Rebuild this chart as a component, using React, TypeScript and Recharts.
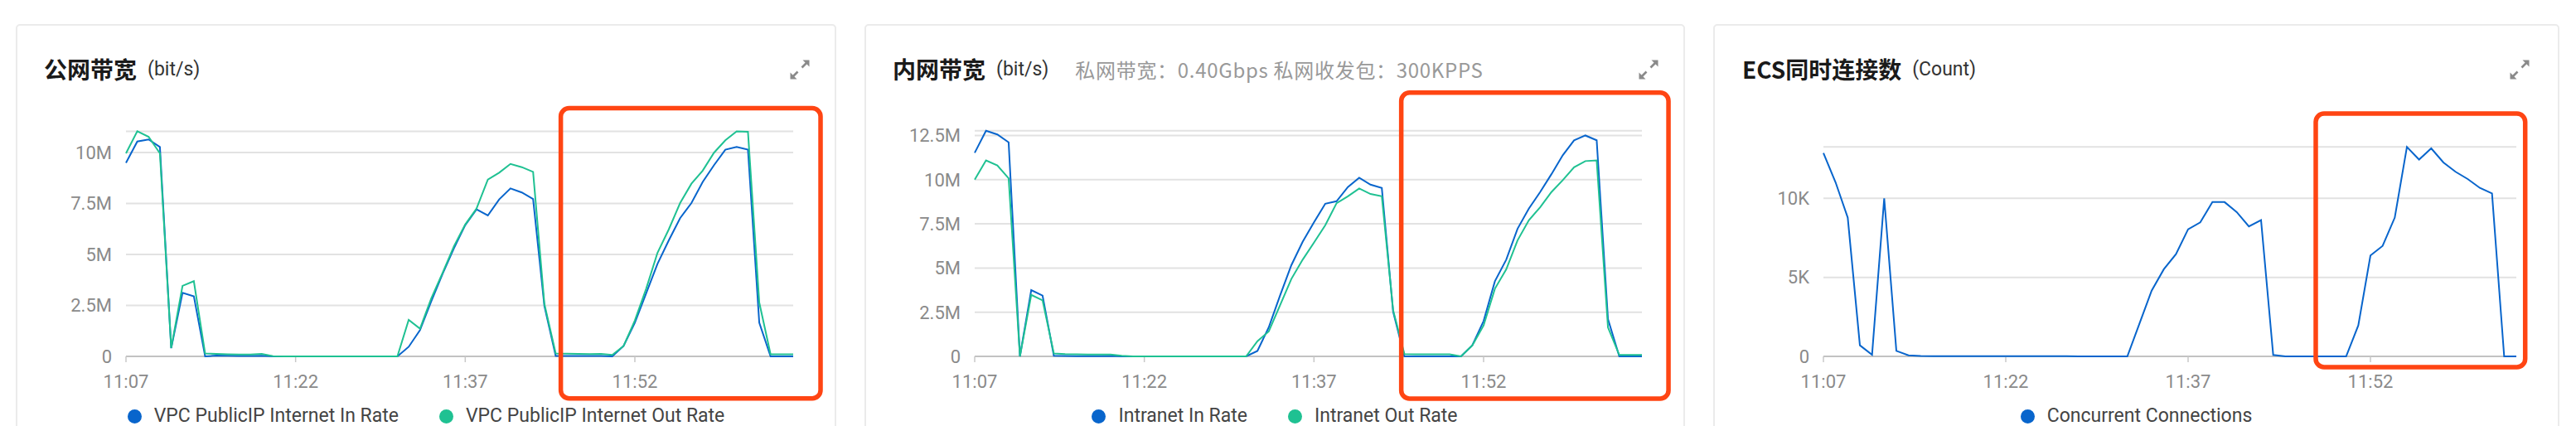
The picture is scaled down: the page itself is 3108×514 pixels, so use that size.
import React from 'react';
import { LineChart, Line, XAxis, YAxis, CartesianGrid, Legend, ReferenceArea } from 'recharts';

// ---------- categories (one sample per minute) ----------
const times = [
  '11:07', '11:08', '11:09', '11:10', '11:11', '11:12', '11:13', '11:14', '11:15', '11:16',
  '11:17', '11:18', '11:19', '11:20', '11:21', '11:22', '11:23', '11:24', '11:25', '11:26',
  '11:27', '11:28', '11:29', '11:30', '11:31', '11:32', '11:33', '11:34', '11:35', '11:36',
  '11:37', '11:38', '11:39', '11:40', '11:41', '11:42', '11:43', '11:44', '11:45', '11:46',
  '11:47', '11:48', '11:49', '11:50', '11:51', '11:52', '11:53', '11:54', '11:55', '11:56',
  '11:57', '11:58', '11:59', '12:00', '12:01', '12:02', '12:03', '12:04', '12:05', '12:06',
];
const xTickIndexes = [0, 15, 30, 45];

// ---------- 公网带宽 (Mbit/s) ----------
const publicInRate = [
  9.49, 10.54, 10.64, 10.27, 0.4, 3.12, 2.95, 0.0, 0.04, 0.03,
  0.02, 0.02, 0.03, 0, 0, 0, 0, 0, 0, 0,
  0, 0, 0, 0, 0, 0.47, 1.29, 2.71, 4.05, 5.3,
  6.44, 7.21, 6.91, 7.7, 8.24, 8.04, 7.72, 2.47, 0.02, 0.02,
  0.02, 0.02, 0.02, 0, 0.51, 1.65, 3.09, 4.54, 5.69, 6.78,
  7.52, 8.56, 9.38, 10.14, 10.27, 10.14, 1.65, 0, 0, 0,
];
const publicOutRate = [
  9.96, 11.04, 10.77, 9.96, 0.41, 3.46, 3.69, 0.14, 0.12, 0.1,
  0.09, 0.09, 0.12, 0.01, 0, 0, 0, 0, 0, 0,
  0, 0, 0, 0, 0, 1.79, 1.36, 2.85, 4.1, 5.4,
  6.47, 7.25, 8.67, 9.01, 9.44, 9.28, 9.05, 2.57, 0.14, 0.13,
  0.12, 0.11, 0.12, 0.07, 0.51, 1.76, 3.32, 5.08, 6.23, 7.52,
  8.47, 9.11, 9.99, 10.6, 11.04, 11.02, 2.64, 0.1, 0.1, 0.1,
];
const publicTicks = [0, 2.5, 5, 7.5, 10];

// ---------- 内网带宽 (Mbit/s) ----------
const intranetInRate = [
  11.52, 12.77, 12.56, 12.11, 0, 3.75, 3.44, 0.03, 0.02, 0.01,
  0.01, 0.01, 0.02, 0, 0, 0, 0, 0, 0, 0,
  0, 0, 0, 0, 0, 0.31, 1.64, 3.44, 5.16, 6.48,
  7.58, 8.64, 8.78, 9.58, 10.11, 9.72, 9.53, 2.53, 0, 0,
  0, 0, 0, 0, 0.62, 2.0, 4.25, 5.47, 7.22, 8.36,
  9.3, 10.31, 11.38, 12.22, 12.5, 12.23, 2.11, 0, 0, 0,
];
const intranetOutRate = [
  10.0, 11.09, 10.81, 10.08, 0, 3.48, 3.17, 0.16, 0.13, 0.12,
  0.11, 0.11, 0.1, 0.03, 0, 0, 0, 0, 0, 0,
  0, 0, 0, 0, 0, 0.86, 1.41, 2.89, 4.38, 5.47,
  6.44, 7.42, 8.67, 9.06, 9.5, 9.19, 9.06, 2.62, 0.13, 0.12,
  0.12, 0.12, 0.12, 0, 0.62, 1.75, 3.83, 4.92, 6.56, 7.7,
  8.44, 9.3, 9.97, 10.7, 11.05, 11.09, 1.64, 0.08, 0.08, 0.08,
];
const intranetTicks = [0, 2.5, 5, 7.5, 10, 12.5];

// ---------- ECS同时连接数 (Count) ----------
const concurrentConnections = [
  12870, 11010, 8780, 700, 100, 10000, 350, 70, 20, 10,
  10, 10, 10, 10, 10, 10, 10, 10, 10, 10,
  10, 0, 0, 0, 0, 0, 2080, 4160, 5510, 6470,
  8040, 8480, 9760, 9760, 9130, 8220, 8620, 90, 0, 0,
  0, 0, 0, 0, 1960, 6380, 6990, 8780, 13250, 12450,
  13160, 12270, 11680, 11220, 10660, 10310, 0, 0,
];
const connectionTicks = [0, 5000, 10000];

// ---------- highlighted ranges [x1, x2, y1, y2] in data units ----------
const publicHighlight = [38.45, 61.42, -2.06, 12.17];
const intranetHighlight = [37.72, 61.35, -2.39, 14.92];
const connectionHighlight = [40.5, 57.73, -680, 15360];

// ---------- tables ----------
const publicData = publicInRate.map((v, i) => ({ t: i, inRate: v, outRate: publicOutRate[i] }));
const intranetData = intranetInRate.map((v, i) => ({ t: i, inRate: v, outRate: intranetOutRate[i] }));
const connectionData = concurrentConnections.map((v, i) => ({ t: i, conn: v }));

const BLUE = '#0865cc';
const GREEN = '#1fc192';
const RED = '#ff4513';
const FONT = "Roboto, 'Noto Sans', sans-serif";
const CJK = "'Noto Sans CJK SC', Roboto, sans-serif";

const fmtM = (v: number) => (v === 0 ? '0' : `${v}M`);
const fmtK = (v: number) => (v === 0 ? '0' : `${v / 1000}K`);
const fmtTime = (v: number) => times[v] ?? '';

const LegendContent = (props: any) => {
  const payload = props.payload || [];
  return (
    <div style={{ display: 'flex', justifyContent: 'center', alignItems: 'center', height: 24, gap: 49 }}>
      {payload.map((e: any) => (
        <div key={e.value} style={{ display: 'flex', alignItems: 'center' }}>
          <span style={{ display: 'block', width: 17, height: 17, borderRadius: '50%', background: e.color, marginRight: 15 }} />
          <span style={{ fontFamily: FONT, fontSize: 23, color: '#444', lineHeight: '24px', whiteSpace: 'nowrap' }}>{e.value}</span>
        </div>
      ))}
    </div>
  );
};

const HighlightBox = (p: any) => (
  <rect x={p.x} y={p.y} width={p.width} height={p.height} rx={10} ry={10} fill="none" stroke={RED} strokeWidth={5.5} />
);

const ExpandIcon = ({ left, top }: { left: number; top: number }) => (
  <svg style={{ position: 'absolute', left, top }} width={26} height={26} viewBox="0 0 26 26">
    <path d="M3 23 L10.5 15.5" stroke="#8a8a8a" strokeWidth={2.6} />
    <path d="M1.5 24.5 L1.5 16.5 L9.5 24.5 Z" fill="#8a8a8a" />
    <path d="M15.5 10.5 L23 3" stroke="#8a8a8a" strokeWidth={2.6} />
    <path d="M24.5 1.5 L16.5 1.5 L24.5 9.5 Z" fill="#8a8a8a" />
  </svg>
);

const Card = ({ left, width }: { left: number; width: number }) => (
  <div
    style={{
      position: 'absolute', left, top: 29, width, height: 520, boxSizing: 'border-box',
      border: '2px solid #ebebeb', borderRadius: 5, background: '#fff',
    }}
  />
);

const Title = ({ left, main, unit, extra }: { left: number; main: string; unit: string; extra?: string }) => (
  <div style={{ position: 'absolute', left, top: 63, height: 40, display: 'flex', alignItems: 'center', whiteSpace: 'nowrap' }}>
    <span style={{ fontFamily: CJK, fontWeight: 700, fontSize: 28, color: '#1a1a1a' }}>{main}</span>
    <span style={{ fontFamily: FONT, fontSize: 23, color: '#333', marginLeft: 13 }}>{unit}</span>
    {extra ? (
      <span style={{ fontFamily: CJK, fontSize: 24, letterSpacing: 0.7, color: '#999', marginLeft: 32 }}>{extra}</span>
    ) : null}
  </div>
);

const axisTick = { fill: '#8a8a8a', fontSize: 22, fontFamily: FONT };

function Panel(props: {
  left: number; width: number; marginTop: number; data: any[]; yTicks: number[]; yFmt: (v: number) => string;
  series: { key: string; name: string; color: string }[]; box: number[];
}) {
  const { left, width, marginTop, data, yTicks, yFmt, series, box } = props;
  return (
    <div style={{ position: 'absolute', left, top: 100, width, height: 414 }}>
      <LineChart width={width} height={414} data={data} margin={{ top: marginTop, right: 52, bottom: 0, left: 20 }}>
        <CartesianGrid vertical={false} stroke="#e2e2e2" strokeWidth={2} />
        <XAxis
          dataKey="t" type="number" domain={['dataMin', 'dataMax']} ticks={xTickIndexes} tickFormatter={fmtTime}
          interval={0} height={60} tickSize={7} tickMargin={15} tick={axisTick}
          axisLine={{ stroke: '#c2c2c2', strokeWidth: 2 }} tickLine={{ stroke: '#c8c8c8', strokeWidth: 1.5 }}
        />
        <YAxis
          type="number" domain={[0, 'dataMax']} ticks={yTicks} tickFormatter={yFmt} interval={0}
          width={113} axisLine={false} tickLine={false} tickSize={0} tickMargin={17} tick={axisTick}
        />
        {series.map((s) => (
          <Line key={s.key} dataKey={s.key} name={s.name} type="linear" stroke={s.color} strokeWidth={2}
            dot={false} activeDot={false} isAnimationActive={false} {...({ zIndex: 600 } as any)} />
        ))}
        <ReferenceArea x1={box[0]} x2={box[1]} y1={box[2]} y2={box[3]} ifOverflow="visible" shape={HighlightBox}
          {...({ zIndex: 700 } as any)} />
        <Legend verticalAlign="bottom" content={LegendContent} wrapperStyle={{ left: 0, width, bottom: 0 }} />
      </LineChart>
    </div>
  );
}

export default function App() {
  return (
    <div style={{ position: 'absolute', left: 0, top: 0, width: 3108, height: 514, overflow: 'hidden', background: '#fff' }}>
      <Card left={19} width={990} />
      <Card left={1043} width={990} />
      <Card left={2067} width={1021} />

      <Title left={53} main="公网带宽" unit="(bit/s)" />
      <Title left={1077} main="内网带宽" unit="(bit/s)" extra="私网带宽：0.40Gbps 私网收发包：300KPPS" />
      <Title left={2102} main="ECS同时连接数" unit="(Count)" />

      <ExpandIcon left={952} top={71} />
      <ExpandIcon left={1976} top={71} />
      <ExpandIcon left={3027} top={71} />

      <Panel
        left={19} width={990} marginTop={58.4} data={publicData} yTicks={publicTicks} yFmt={fmtM}
        series={[
          { key: 'inRate', name: 'VPC PublicIP Internet In Rate', color: BLUE },
          { key: 'outRate', name: 'VPC PublicIP Internet Out Rate', color: GREEN },
        ]}
        box={publicHighlight}
      />
      <Panel
        left={1043} width={990} marginTop={57.7} data={intranetData} yTicks={intranetTicks} yFmt={fmtM}
        series={[
          { key: 'inRate', name: 'Intranet In Rate', color: BLUE },
          { key: 'outRate', name: 'Intranet Out Rate', color: GREEN },
        ]}
        box={intranetHighlight}
      />
      <Panel
        left={2067} width={1021} marginTop={77.3} data={connectionData} yTicks={connectionTicks} yFmt={fmtK}
        series={[{ key: 'conn', name: 'Concurrent Connections', color: BLUE }]}
        box={connectionHighlight}
      />
    </div>
  );
}
